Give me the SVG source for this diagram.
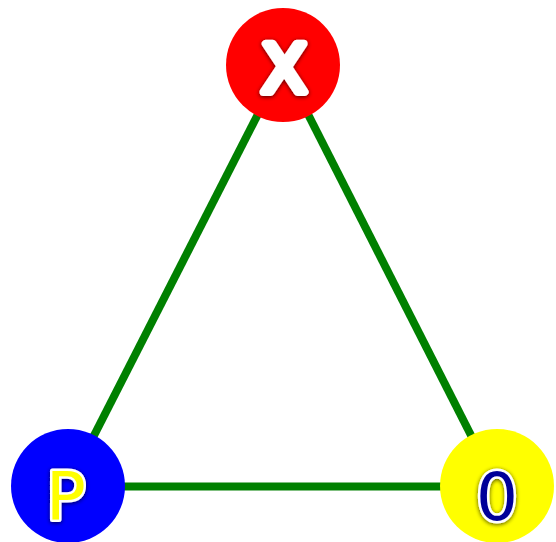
<svg xmlns="http://www.w3.org/2000/svg" width="556" height="542" viewBox="0 0 556 542">
<defs>
<filter id="glow" x="-30%" y="-30%" width="160%" height="160%">
<feGaussianBlur in="SourceAlpha" stdDeviation="2"/>
<feOffset dx="0" dy="1" result="b"/>
<feComponentTransfer><feFuncA type="linear" slope="0.7"/></feComponentTransfer>
<feMerge><feMergeNode/><feMergeNode in="SourceGraphic"/></feMerge>
</filter>
</defs>
<style>
.edge{stroke:#008000;stroke-width:8;fill:none}
.lbl{font-family:"DejaVu Sans","Liberation Sans",sans-serif;font-weight:normal;font-size:66px;text-anchor:middle;paint-order:stroke;stroke:#fff;stroke-width:5;stroke-linejoin:round;filter:url(#glow)}
</style>
<rect width="556" height="542" fill="#fff"/>
<g id="connectors">
<line class="edge" x1="283" y1="65" x2="68" y2="486.5"/>
<line class="edge" x1="283" y1="65" x2="497" y2="486.5"/>
<line class="edge" x1="68" y1="486.5" x2="497" y2="486.5"/>
</g>
<g id="node-X">
<circle cx="283" cy="65" r="57" fill="#ff0000"/>
<text class="lbl" x="284" y="92" fill="#fff" style="stroke-width:8">X</text>
</g>
<g id="node-P">
<circle cx="68" cy="486" r="57" fill="#0000ff"/>
<text class="lbl" x="66" y="519" fill="#ffff00">P</text>
</g>
<g id="node-O">
<circle cx="497" cy="486" r="57" fill="#ffff00"/>
<text class="lbl" x="497" y="520" fill="#000099">0</text>
</g>
</svg>
